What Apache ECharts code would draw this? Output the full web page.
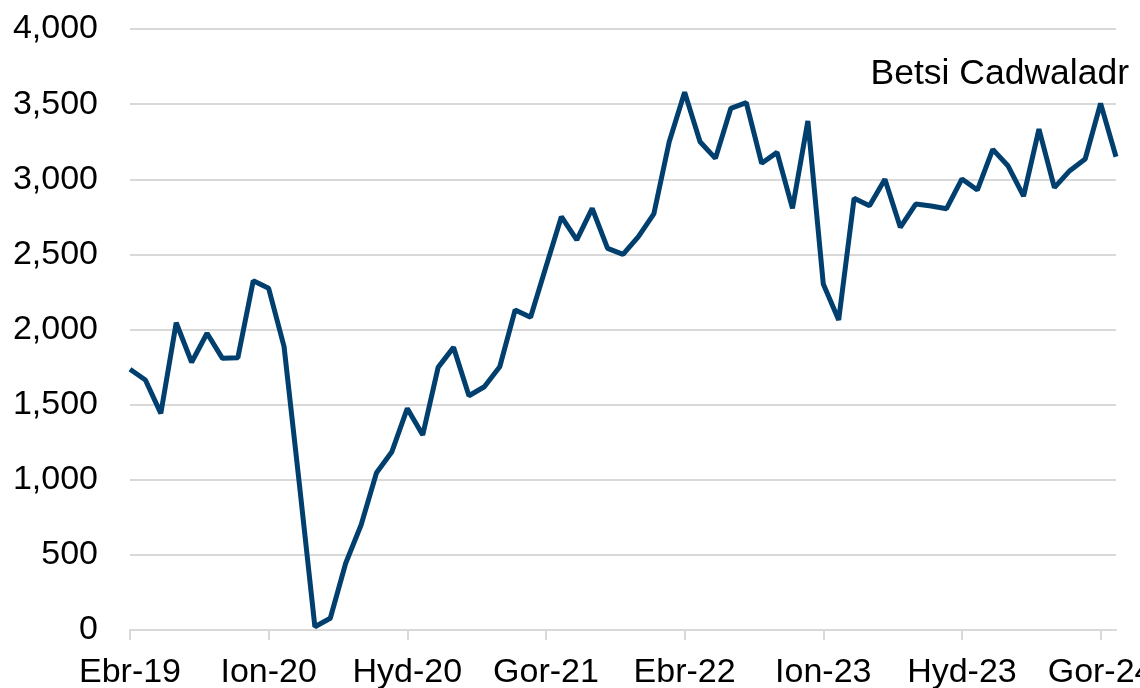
<!DOCTYPE html>
<html>
<head>
<meta charset="utf-8">
<script src="https://cdn.jsdelivr.net/npm/echarts@6/dist/echarts.min.js"></script>
<style>
  html, body { margin: 0; padding: 0; background: #fff; }
  #chart { width: 1140px; height: 688px; }
</style>
</head>
<body>
<div id="chart"></div>
<script>
  // misoedd (Ebr-19 .. Aws-24)
  const months = [
    'Ebr-19', 'Mai-19', 'Meh-19', 'Gor-19', 'Aws-19', 'Med-19', 'Hyd-19', 'Tach-19', 'Rhag-19',
    'Ion-20', 'Chw-20', 'Maw-20', 'Ebr-20', 'Mai-20', 'Meh-20', 'Gor-20', 'Aws-20', 'Med-20', 'Hyd-20', 'Tach-20', 'Rhag-20',
    'Ion-21', 'Chw-21', 'Maw-21', 'Ebr-21', 'Mai-21', 'Meh-21', 'Gor-21', 'Aws-21', 'Med-21', 'Hyd-21', 'Tach-21', 'Rhag-21',
    'Ion-22', 'Chw-22', 'Maw-22', 'Ebr-22', 'Mai-22', 'Meh-22', 'Gor-22', 'Aws-22', 'Med-22', 'Hyd-22', 'Tach-22', 'Rhag-22',
    'Ion-23', 'Chw-23', 'Maw-23', 'Ebr-23', 'Mai-23', 'Meh-23', 'Gor-23', 'Aws-23', 'Med-23', 'Hyd-23', 'Tach-23', 'Rhag-23',
    'Ion-24', 'Chw-24', 'Maw-24', 'Ebr-24', 'Mai-24', 'Meh-24', 'Gor-24', 'Aws-24'
  ]

  const values = [
    1735, 1664, 1442, 2045, 1782, 1975, 1808, 1812, 2325, 2274,
    1886, 965, 22, 78, 444, 699, 1047, 1187, 1475, 1298,
    1748, 1881, 1559, 1619, 1752, 2130, 2081, 2418, 2751, 2596,
    2806, 2540, 2500, 2618, 2769, 3250, 3579, 3250, 3139, 3472,
    3510, 3106, 3179, 2806, 3388, 2303, 2063, 2873, 2824, 3000,
    2680, 2835, 2822, 2804, 3002, 2928, 3199, 3088, 2888, 3334,
    2944, 3057, 3135, 3505, 3150
  ]

  const seriesName = 'Betsi Cadwaladr'
  const yMin = 0
  const yMax = 4000
  const yStep = 500

  const font = '"Liberation Sans", Arial, sans-serif'
  const chart = echarts.init(document.getElementById('chart'))

  chart.setOption({
    animation: false,
    backgroundColor: '#fff',
    title: {
      text: seriesName,
      right: 6,
      top: 51,
      textStyle: {
        fontFamily: font,
        fontSize: 35.5,
        fontWeight: 'normal',
        color: '#000'
      }
    },
    grid: {
      left: 130,
      right: 24,
      top: 29,
      bottom: 58,
      outerBoundsMode: 'none'
    },
    xAxis: {
      type: 'category',
      data: months,
      boundaryGap: false,
      axisLine: { lineStyle: { color: '#d9d9d9', width: 2 } },
      axisTick: { interval: 8, length: 10, lineStyle: { color: '#d9d9d9', width: 2 } },
      axisLabel: {
        interval: 8,
        margin: 26,
        fontFamily: font,
        fontSize: 34,
        color: '#000'
      },
      splitLine: { show: false }
    },
    yAxis: {
      type: 'value',
      min: yMin,
      max: yMax,
      interval: yStep,
      axisLine: { show: false },
      axisTick: { show: false },
      axisLabel: {
        margin: 32,
        fontFamily: font,
        fontSize: 34,
        color: '#000',
        formatter: v => v.toLocaleString('en-US')
      },
      splitLine: { lineStyle: { color: '#d9d9d9', width: 2 } }
    },
    series: [{
      name: seriesName,
      type: 'line',
      data: values,
      symbol: 'none',
      lineStyle: { color: '#003f6e', width: 5 }
    }]
  })
</script>
</body>
</html>
